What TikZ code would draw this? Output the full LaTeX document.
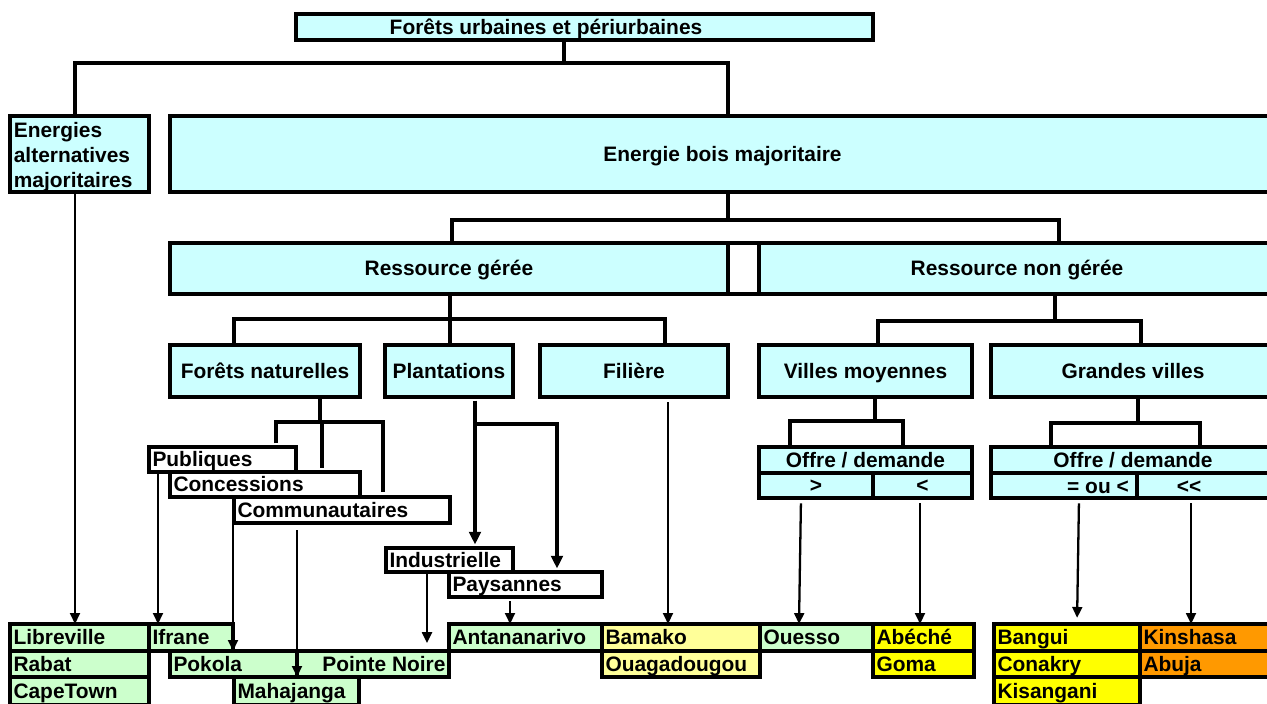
\documentclass[tikz,border=0pt]{standalone}
\usepackage{fontspec}
\setmainfont{Liberation Sans}
\usetikzlibrary{arrows.meta,fit,positioning}
\definecolor{boxcyan}{HTML}{CCFFFF}
\definecolor{citygreen}{HTML}{CCFFCC}
\definecolor{citypale}{HTML}{FFFF99}
\definecolor{cityyellow}{HTML}{FFFF00}
\definecolor{cityorange}{HTML}{FF9900}
\tikzset{
boxframe/.style={draw, line width=1.9pt, inner sep=0pt, outer sep=0pt},
cbox/.style={boxframe, fill=boxcyan},
tbox/.style={cbox, label={[ctext]center:{#1}}},
wbox/.style={boxframe, fill=white},
ctext/.style={inner sep=0pt, outer sep=0pt, text height=8.5pt, text depth=0pt},
ltext/.style={anchor=west, inner xsep=2pt, inner ysep=0pt, outer sep=0pt, text height=8.5pt, text depth=0pt},
rtext/.style={ltext, anchor=east},
citybox/.style 2 args={boxframe, fill=#1, label={[ltext]west:{#2}}},
conn/.style={line width=1.8pt},
arr/.style={line width=1.3pt, -{Triangle[width=5.6pt,length=6.2pt]}},
bigarr/.style={line width=2pt, -{Triangle[width=6.6pt,length=7.2pt]}},
}
\begin{document}
\begin{tikzpicture}[x=0.02cm, y=-0.02cm, font=\fontsize{11.9}{14.2}\selectfont\bfseries]
	\fill[white, use as bounding box] (0,0) rectangle (1267,703);
	
	% upper levels
	\node[cbox, fit={(296,14) (873,40)}] (urb) {};
	\node[ctext] (urbtxt) at (546,27) {Forêts urbaines et périurbaines};
	\node[cbox, fit={(10,116) (149,192)}] (EA) {};
	\node[anchor=west, align=left, inner xsep=2pt, inner ysep=0pt, yshift=-1.8pt] (EAtxt) at (EA.west) {Energies\\alternatives\\majoritaires};
	\node[tbox={Energie bois majoritaire}, fit={(170,116) (1275,192)}] (EB) {};
	\node[tbox={Ressource gérée}, fit={(170,243) (728,294)}] (RG) {};
	\node[wbox, fit={(728,243) (759,294)}] (gap) {};
	\node[tbox={Ressource non gérée}, fit={(759,243) (1275,294)}] (RNG) {};
	
	\node[tbox={Forêts naturelles}, fit={(170,345) (360,397)}] (FN) {};
	\node[tbox={Plantations}, fit={(385,345) (513,397)}] (PL) {};
	\node[tbox={Filière}, fit={(540,345) (728,397)}] (FI) {};
	\node[tbox={Villes moyennes}, fit={(759,345) (972,397)}] (VM) {};
	\node[tbox={Grandes villes}, fit={(991,345) (1275,397)}] (GV) {};
	
	% offre / demande
	\node[tbox={Offre / demande}, fit={(759,447) (972,473)}] (od1) {};
	\node[tbox={>}, fit={(759,473) (873,498)}] (od1a) {};
	\node[tbox={<}, fit={(873,473) (972,498)}] (od1b) {};
	\node[tbox={Offre / demande}, fit={(991,447) (1275,473)}] (od2) {};
	\node[cbox, fit={(991,473) (1137,498)}] (od2a) {};
	\node[cbox, fit={(1137,473) (1275,498)}] (od2b) {};
	\node[ctext] (od2atxt) at (1098,486) {= ou <};
	\node[ctext] (od2btxt) at (1189,486) {<\kern0pt<};
	
	% sous-types
	\node[wbox, fit={(149,447) (296,472)}, label={[ltext]west:Publiques}] (PU) {};
	\node[wbox, fit={(170,472) (360,497)}, label={[ltext]west:Concessions}] (CO) {};
	\node[wbox, fit={(234,497) (450,523)}, label={[ltext]west:Communautaires}] (CM) {};
	\node[wbox, fit={(386,548) (513,572)}, label={[ltext]west:Industrielle}] (IN) {};
	\node[wbox, fit={(449,572) (602,597)}, label={[ltext]west:Paysannes}] (PA) {};
	
	% villes
	\node[citybox={citygreen}{Libreville}, fit={(10,624) (149,651)}] (lib) {};
	\node[citybox={citygreen}{Ifrane}, fit={(149,624) (233,651)}] (ifr) {};
	\node[citybox={citygreen}{Rabat}, fit={(10,651) (149,677)}] (rab) {};
	\node[citybox={citygreen}{CapeTown}, fit={(10,677) (149,705)}] (cap) {};
	\node[citybox={citygreen}{Pokola}, fit={(170,651) (297,677)}] (pok) {};
	\node[boxframe, fill=citygreen, fit={(297,651) (449,677)}, label={[rtext]east:Pointe Noire}] (pno) {};
	\node[citybox={citygreen}{Mahajanga}, fit={(234,677) (359,705)}] (mah) {};
	\node[citybox={citygreen}{Antananarivo}, fit={(449,624) (602,651)}] (ant) {};
	\node[citybox={citypale}{Bamako}, fit={(602,624) (760,651)}] (bam) {};
	\node[citybox={citypale}{Ouagadougou}, fit={(602,651) (760,677)}] (oua) {};
	\node[citybox={citygreen}{Ouesso}, fit={(760,624) (873,651)}] (oue) {};
	\node[citybox={cityyellow}{Abéché}, fit={(873,624) (974,651)}] (abe) {};
	\node[citybox={cityyellow}{Goma}, fit={(873,651) (974,677)}] (gom) {};
	\node[citybox={cityyellow}{Bangui}, fit={(994,624) (1140,651)}] (ban) {};
	\node[citybox={cityyellow}{Conakry}, fit={(994,651) (1140,677)}] (con) {};
	\node[citybox={cityyellow}{Kisangani}, fit={(994,677) (1140,705)}] (kis) {};
	\node[citybox={cityorange}{Kinshasa}, fit={(1140,624) (1275,651)}] (kin) {};
	\node[citybox={cityorange}{Abuja}, fit={(1140,651) (1275,677)}] (abu) {};
	
	% tree
	\draw[conn] (564,0 |- urb.south) -- (564,63);
	\draw[conn] (75,0 |- EA.north) -- (75,63) -- (728,63) -- (728,0 |- EB.north);
	\draw[conn] (728,0 |- EB.south) -- (728,220);
	\draw[conn] (452,0 |- RG.north) -- (452,220) -- (1059,220) -- (1059,0 |- RNG.north);
	\draw[conn] (450,0 |- RG.south) -- (450,0 |- PL.north);
	\draw[conn] (234,0 |- FN.north) -- (234,319) -- (665,319) -- (665,0 |- FI.north);
	\draw[conn] (1055,0 |- RNG.south) -- (1055,321);
	\draw[conn] (878,0 |- VM.north) -- (878,321) -- (1141,321) -- (1141,0 |- GV.north);
	\draw[conn] (875,0 |- VM.south) -- (875,421);
	\draw[conn] (790,0 |- od1.north) -- (790,421) -- (903,421) -- (903,0 |- od1.north);
	\draw[conn] (1138,0 |- GV.south) -- (1138,423);
	\draw[conn] (1051,0 |- od2.north) -- (1051,423) -- (1200,423) -- (1200,0 |- od2.north);
	\draw[conn, line width=2.2pt] (320,0 |- FN.south) -- (320,422);
	\draw[conn, shorten <=2pt, shorten >=3pt] (276,0 |- PU.north) -- (276,422) -- (383,422) -- (383,0 |- CM.north);
	\draw[conn, shorten >=2pt] (322,422) -- (322,0 |- CO.north);
	
	% arrows
	\draw[arr] (75,0 |- EA.south) -- (75,0 |- lib.north);
	\draw[arr] (158,0 |- PU.south) -- (158,0 |- ifr.north);
	\draw[arr] (233,0 |- CO.south) -- (233,0 |- pok.north);
	\draw[arr, shorten <=4pt] (297,0 |- CM.south) -- (297,0 |- mah.north);
	\draw[arr, shorten >=4.5pt] (427,0 |- IN.south) -- (427,0 |- pno.north);
	\draw[arr, shorten <=2.5pt] (510,0 |- PA.south) -- (510,0 |- ant.north);
	\draw[arr, shorten <=3pt] (668,0 |- FI.south) -- (668,0 |- bam.north);
	\draw[arr, shorten <=3pt] (801,0 |- od1a.south) -- (799,0 |- oue.north);
	\draw[arr, shorten <=3pt] (920,0 |- od1b.south) -- (920,0 |- abe.north);
	\draw[arr, shorten <=3pt, shorten >=3.5pt] (1079,0 |- od2a.south) -- (1077,0 |- ban.north);
	\draw[arr, shorten <=3pt] (1191,0 |- od2b.south) -- (1191,0 |- kin.north);
	\draw[bigarr, shorten <=2pt, shorten >=2pt] (475,0 |- PL.south) -- (475,0 |- IN.north);
	\draw[bigarr, shorten >=2pt] (475,424) -- (557,424) -- (557,0 |- PA.north);
\end{tikzpicture}
\end{document}
